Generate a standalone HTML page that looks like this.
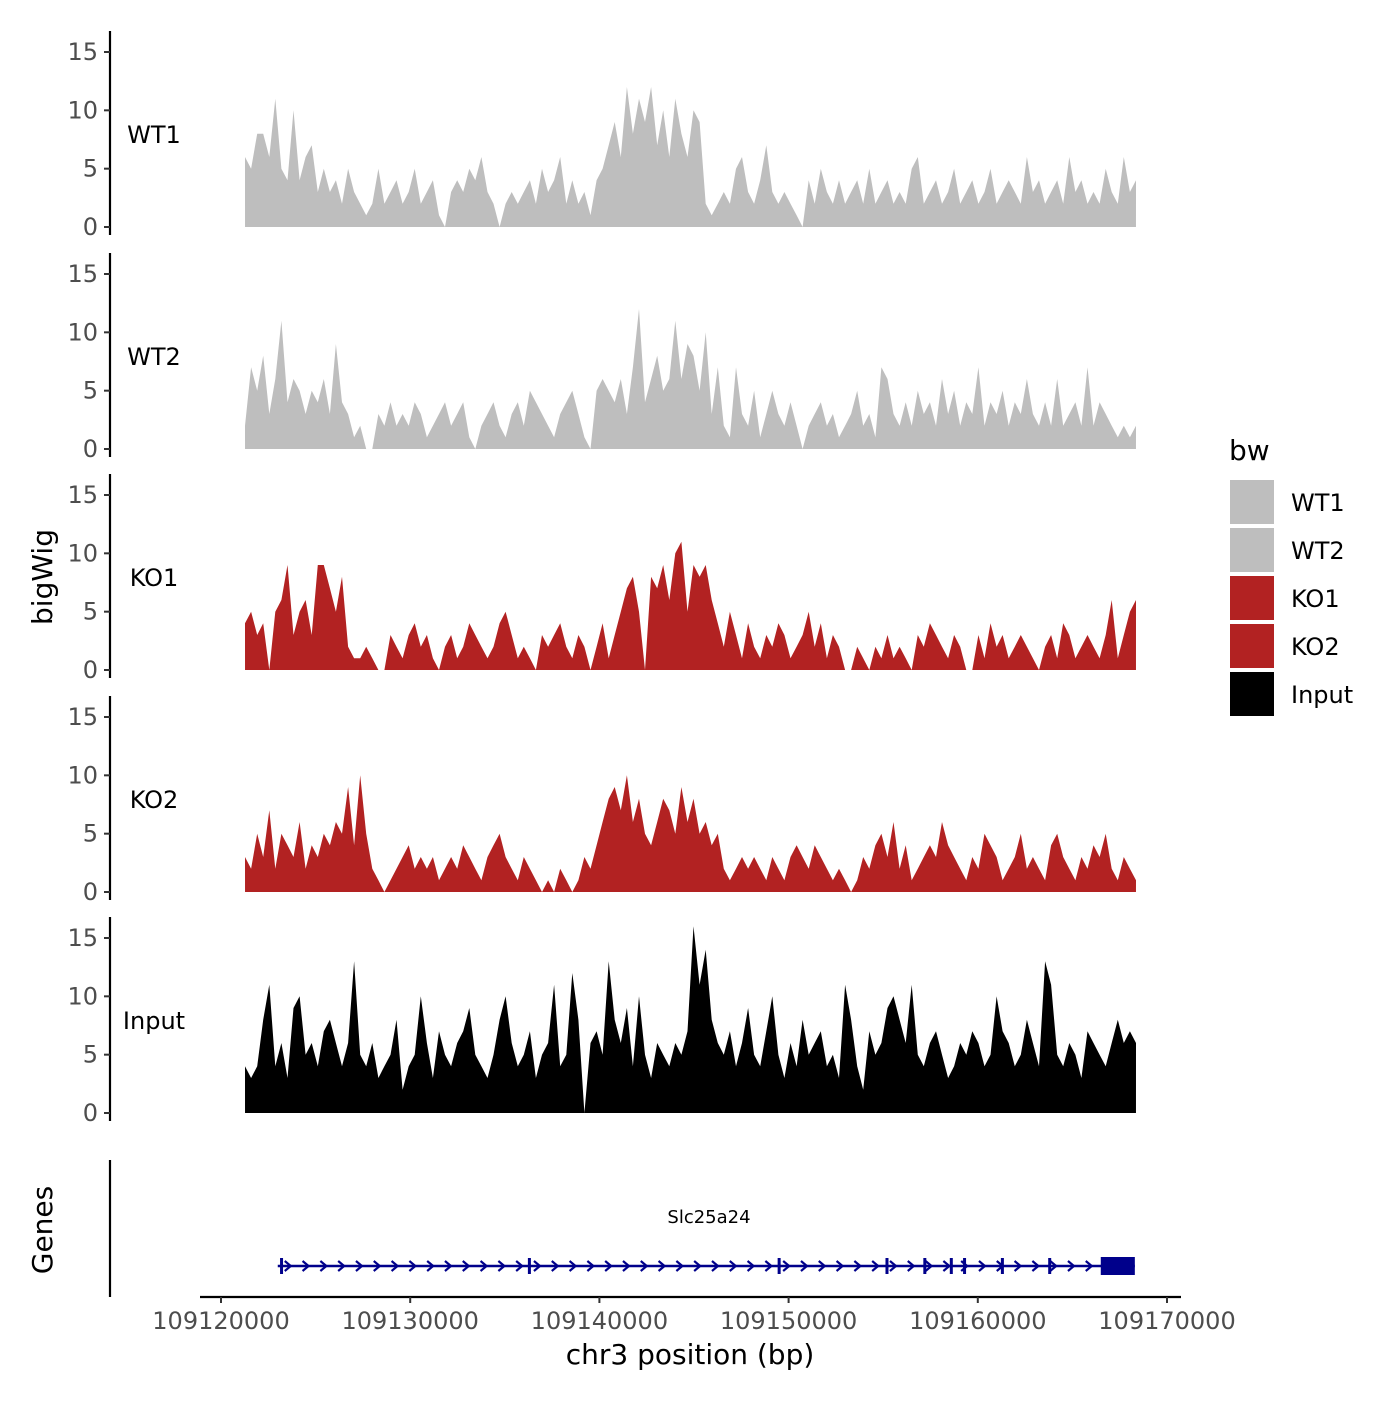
<!DOCTYPE html>
<html><head><meta charset="utf-8"><style>
html,body{margin:0;padding:0;background:#fff;}
svg text{font-family:"DejaVu Sans","Liberation Sans",sans-serif;}
</style></head><body>
<svg id="c" width="1400" height="1400" viewBox="0 0 1400 1400" xmlns="http://www.w3.org/2000/svg">
<rect width="1400" height="1400" fill="#fff"/>
<g id="tracks"></g>
<g id="genes"></g>
<g id="xaxis"></g>
<text x="52" y="577" font-size="28" text-anchor="middle" transform="rotate(-90 52 577)">bigWig</text>
<text x="52" y="1230" font-size="28" text-anchor="middle" transform="rotate(-90 52 1230)">Genes</text>
<text x="690" y="1364" font-size="28" text-anchor="middle">chr3 position (bp)</text>
<g id="legend"></g>
</svg>
<script>
const trackNames = ["WT1","WT2","KO1","KO2","Input"];
const trackColors = ["#bebebe","#bebebe","#b22222","#b22222","#000000"];
const yTicks = [0,5,10,15];
const xTicks = [109120000,109130000,109140000,109150000,109160000,109170000];
const dataStart = 109121270, dataEnd = 109168360;
const WT1 = [6,5,8,8,6,11,5,4,10,4,6,7,3,5,3,4,2,5,3,2,1,
 2,5,2,3,4,2,3,5,2,3,4,1,0,3,4,3,5,4,6,3,2,0,2,3,2,3,4,2,5,3,4,6,2,4,2,3,1,4,
 5,7,9,6,12,8,11,9,12,7,10,6,11,8,6,10,9,
 2,1,2,3,2,5,6,3,2,4,7,3,2,3,2,1,
 0,4,2,5,3,2,4,2,3,4,2,5,2,3,4,2,3,2,5,6,2,3,4,2,3,5,2,3,4,2,3,5,2,3,4,3,2,6,3,4,2,3,4,2,6,3,4,2,3,2,5,3,2,6,3,4];
const WT2 = [2,7,5,8,3,6,11,4,6,5,3,5,4,6,3,9,4,3,
 1,2,0,0,
 3,2,4,2,3,2,4,3,1,2,3,4,2,3,4,1,0,2,3,4,2,1,3,4,2,5,4,3,2,1,3,4,5,3,1,0,
 5,6,5,4,6,3,7,12,4,6,8,5,6,11,6,9,8,5,10,3,7,
 2,1,7,3,2,5,1,3,5,3,2,4,2,0,
 2,3,4,2,3,1,2,3,5,2,3,1,7,6,3,2,4,2,5,3,4,2,6,3,5,2,4,3,7,2,4,3,5,2,4,3,6,3,2,4,2,6,2,3,4,2,7,2,4,3,2,1,2,1,2];
const KO1 = [4,5,3,4,0,5,6,9,3,5,6,3,9,9,7,5,8,
 2,1,1,2,1,0,0,
 3,2,1,3,4,2,3,1,0,2,3,1,2,4,3,2,1,2,4,5,3,1,2,1,0,3,2,3,4,2,1,3,2,
 0,2,4,1,3,5,7,8,5,
 0,8,7,9,6,10,11,5,9,8,9,6,4,
 2,5,3,1,4,2,1,3,2,4,3,1,2,3,5,2,4,1,3,2,0,0,
 2,1,0,2,1,3,1,2,1,0,3,2,4,3,2,1,3,2,0,0,
 3,1,4,2,3,1,2,3,2,1,0,2,3,1,4,3,1,2,3,2,1,3,6,1,3,5,6];
const KO2 = [3,2,5,3,7,2,5,4,3,6,2,4,3,5,4,6,5,9,4,10,5,
 2,1,0,1,
 2,3,4,2,3,2,3,1,2,3,2,4,3,2,1,3,4,5,3,2,1,3,2,1,0,1,0,2,1,0,1,3,2,
 4,6,8,9,7,10,6,8,5,4,6,8,7,5,9,6,8,5,6,4,5,
 2,1,2,3,2,3,2,1,3,2,1,3,4,3,2,4,3,2,1,2,1,0,
 1,3,2,4,5,3,6,2,4,1,2,3,4,3,6,4,3,2,1,3,2,5,4,3,1,2,3,5,2,3,2,1,4,5,3,2,1,3,2,4,3,5,2,1,3,2,1];
const Input = [4,3,4,8,11,4,6,3,9,10,5,6,4,7,8,6,4,6,13,
 5,4,6,3,4,5,8,2,4,5,10,6,3,7,5,4,6,7,9,5,4,3,5,8,10,6,4,5,7,3,5,6,11,4,5,12,8,
 0,
 6,7,5,13,8,6,9,4,10,5,3,6,5,4,6,5,7,
 16,11,14,8,
 6,5,7,4,6,9,5,4,7,10,5,3,6,4,8,5,6,7,4,5,3,
 11,8,
 4,2,7,5,6,9,10,8,6,11,5,4,6,7,5,3,4,6,5,7,6,4,5,10,7,6,4,5,8,6,4,13,11,5,4,6,5,3,7,6,5,4,6,8,6,7,6];
const seriesList = [WT1,WT2,KO1,KO2,Input];
const exonPositions = [109123200,109136300,109149500,109155200,109157200,109158600,109159300,109161300,109163800];
const geneStart = 109123000, geneEnd = 109168300, utrStart = 109166500;

const NS="http://www.w3.org/2000/svg";
function mk(t,a,p){const e=document.createElementNS(NS,t);for(const k in a)e.setAttribute(k,a[k]);p.appendChild(e);return e;}
const xScale = v => 221 + (v-109120000)*(946/50000);
const zeros = [227,449,670,892,1113];
const yScale = (i,v) => zeros[i] - v*(175/15);
const tracks=document.getElementById('tracks');
seriesList.forEach((arr,i)=>{
  const g=mk('g',{},tracks);
  
  
  const n=arr.length;
  let d='M'+xScale(dataStart)+','+zeros[i];
  arr.forEach((v,j)=>{const bp=dataStart+(dataEnd-dataStart)*j/(n-1);d+=' L'+xScale(bp).toFixed(1)+','+yScale(i,v).toFixed(1);});
  d+=' L'+xScale(dataEnd)+','+zeros[i]+'Z';
  const p=mk('path',{d:d,fill:trackColors[i]},g);
  
  
  const ax=mk('line',{x1:110,x2:110,y1:zeros[i]-196,y2:zeros[i]+8,stroke:'#000','stroke-width':2.2},g);
  
  
  yTicks.forEach(t=>{
    const y=yScale(i,t);
    mk('line',{x1:104,x2:110,y1:y,y2:y,stroke:'#333','stroke-width':2},g);
    const tx=mk('text',{x:98,y:y+8,'font-size':24,fill:'#4d4d4d','text-anchor':'end'},g);
    tx.textContent=t;
    
    
  });
  const lb=mk('text',{x:154,y:zeros[i]-84,'font-size':24,'text-anchor':'middle'},g);
  lb.textContent=trackNames[i];
  
  
});
const gg=document.getElementById('genes');
mk('line',{x1:110,x2:110,y1:1160,y2:1297,stroke:'#000','stroke-width':2.2},gg);
const gy=1266;
mk('line',{x1:xScale(geneStart),x2:xScale(geneEnd),y1:gy,y2:gy,stroke:'#00008b','stroke-width':2.5},gg);
for(let x=xScale(geneStart)+10;x<xScale(utrStart)-8;x+=17.8){
  mk('path',{d:`M${x-3},${gy-5} L${x+3},${gy} L${x-3},${gy+5}`,fill:'none',stroke:'#00008b','stroke-width':2.2},gg);
}
exonPositions.forEach(p=>{const x=xScale(p);const e=mk('rect',{x:x-1.5,y:gy-8,width:3,height:16,fill:'#00008b'},gg);});
const utr=mk('rect',{x:xScale(utrStart),y:gy-9,width:xScale(geneEnd)-xScale(utrStart),height:18,fill:'#00008b'},gg);


const gl=mk('text',{x:709,y:1223,'font-size':18,'text-anchor':'middle'},gg);
gl.textContent='Slc25a24';


const xa=document.getElementById('xaxis');
mk('line',{x1:200,x2:1181,y1:1297,y2:1297,stroke:'#000','stroke-width':2.2},xa);
xTicks.forEach(t=>{
  const x=xScale(t);
  mk('line',{x1:x,x2:x,y1:1297,y2:1303,stroke:'#333','stroke-width':2},xa);
  const tx=mk('text',{x:x,y:1329,'font-size':24,fill:'#4d4d4d','text-anchor':'middle'},xa);
  tx.textContent=t;
  
  
});
const lg=document.getElementById('legend');
const lt=mk('text',{x:1229,y:460,'font-size':28},lg);lt.textContent='bw';


trackNames.forEach((n,i)=>{
  const y=480+i*48;
  const r=mk('rect',{x:1230,y:y,width:44,height:44,fill:trackColors[i]},lg);
  
  
  const t=mk('text',{x:1291,y:y+31,'font-size':24},lg);t.textContent=n;
  
  
});
</script>
</body></html>
